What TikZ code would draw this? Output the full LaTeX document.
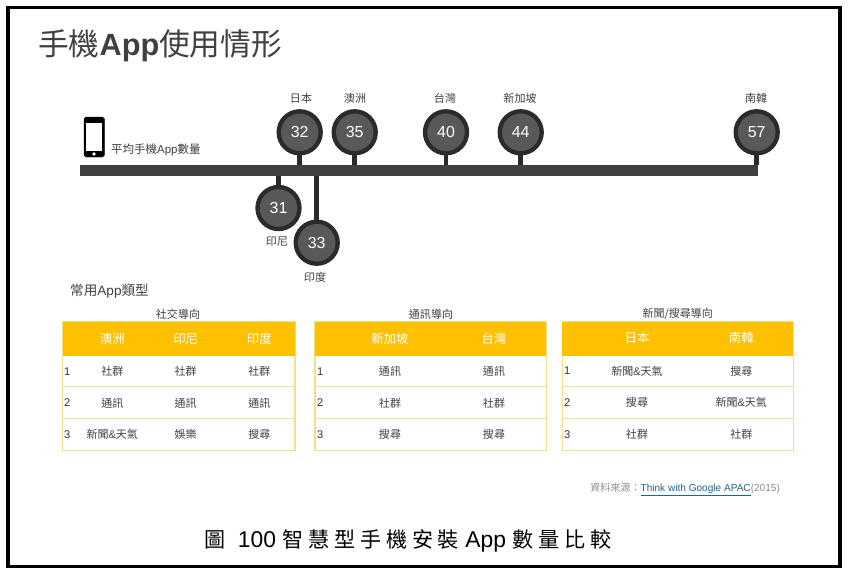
\documentclass[tikz,border=0pt]{standalone}
\usepackage{fontspec}
\setmainfont{Liberation Sans}
\newfontfamily\cjk{Noto Sans CJK TC}
\newfontfamily\capcjk[LetterSpace=23]{Noto Sans CJK TC}
\newcommand{\zh}[1]{{\cjk #1}}
\definecolor{inkgray}{HTML}{404040}
\definecolor{ringgray}{HTML}{2B2B2B}
\definecolor{discgray}{HTML}{595959}
\definecolor{headgold}{HTML}{FFC000}
\definecolor{rulegold}{HTML}{F5E08A}
\definecolor{linkblue}{HTML}{1F6391}
\definecolor{srcgray}{HTML}{8C8C8C}
\tikzset{
  disc/.style={circle,draw=ringgray,fill=discgray,line width=3.7pt,minimum size=1.26cm,inner sep=0pt,text=white,font=\fontsize{13.6}{15}\selectfont},
  stem/.style={draw=ringgray,line width=3.8pt},
  country/.style={inner sep=0pt,text=inkgray,font=\fontsize{9.4}{11}\selectfont\cjk},
  headcell/.style={inner sep=0pt,text=white,font=\fontsize{10.6}{12}\selectfont\cjk},
  cell/.style={inner sep=0pt,text=inkgray,font=\fontsize{9.4}{11}\selectfont\cjk},
  rownum/.style={inner sep=0pt,anchor=west,text=black!80,font=\fontsize{9.5}{11}\selectfont},
  tabletitle/.style={inner sep=0pt,text=inkgray,font=\fontsize{9.4}{11}\selectfont\cjk},
  rowline/.style={draw=rulegold,line width=0.9pt},
}
\begin{document}
\begin{tikzpicture}[x=0.03cm,y=-0.03cm]
\useasboundingbox (0,0) rectangle (852,576);
\draw [line width=3.2pt] (8,7.5) rectangle (840,566.5);
% heading
\node [inner sep=0pt,anchor=west,text=inkgray,font=\fontsize{26.2}{30}\selectfont] (Title) at (38,46) {\zh{手機}\textbf{App}\zh{使用情形}};
% phone
\draw [fill=black,rounded corners=1.6pt] (84,117) rectangle (104.3,157);
\draw [fill=white,draw=none] (86,123.3) rectangle (102,150.7);
\draw [fill=white,draw=none] (94,154) circle (1.8);
\node [inner sep=0pt,anchor=west,text=inkgray,font=\fontsize{9.8}{11}\selectfont] (PhoneText) at (111,150) {\zh{平均手機}App\zh{數量}};
% time line
\node [fill=inkgray,minimum width=20.34cm,minimum height=0.32cm,inner sep=0pt] (Bar) at (419,170.3) {};
\node [disc] (N32) at (299.7,132.3) {32};
\node [disc] (N35) at (354.7,132.3) {35};
\node [disc] (N40) at (446,132.3) {40};
\node [disc] (N44) at (520.7,132.3) {44};
\node [disc] (N57) at (756.7,132.3) {57};
\node [disc] (N31) at (278.5,208) {31};
\node [disc] (N33) at (316.7,242.7) {33};
\draw [stem] (N32) -- (N32 |- Bar.north);
\draw [stem] (N35) -- (N35 |- Bar.north);
\draw [stem] (N40) -- (N40 |- Bar.north);
\draw [stem] (N44) -- (N44 |- Bar.north);
\draw [stem] (N57) -- (N57 |- Bar.north);
\draw [stem] (N31) -- (N31 |- Bar.south);
\draw [stem] (N33) -- (N33 |- Bar.south);
\node [country] (LJapan) at (301,98) {日本};
\node [country] (LAus) at (355,98) {澳洲};
\node [country] (LTaiwan) at (445,98.5) {台灣};
\node [country] (LSing) at (520,98.5) {新加坡};
\node [country] (LKorea) at (756,98.5) {南韓};
\node [country] (LIndo) at (277,241) {印尼};
\node [country] (LIndia) at (315,277) {印度};
% tables
\node [inner sep=0pt,anchor=west,text=inkgray,font=\fontsize{11.6}{13}\selectfont] (TypeText) at (70,291) {\zh{常用}App\zh{類型}};
\node [tabletitle] (T1) at (178,314) {社交導向};
\draw [rowline] (62.5,321.7) rectangle (295,450.7);
\draw [fill=headgold,draw=none] (62.5,321.7) rectangle (295,355.7);
\draw [rowline] (62.5,386.7) -- (295,386.7);
\draw [rowline] (62.5,418.3) -- (295,418.3);
\node [headcell] (A0) at (112.3,339) {澳洲};
\node [headcell] (B0) at (185.7,339) {印尼};
\node [headcell] (C0) at (259.3,339) {印度};
\node [rownum] (R1) at (64,371.7) {1};
\node [cell] (A1) at (112.3,371.7) {社群};
\node [cell] (B1) at (185.7,371.7) {社群};
\node [cell] (C1) at (259.3,371.7) {社群};
\node [rownum] (R2) at (64,403) {2};
\node [cell] (A2) at (112.3,403) {通訊};
\node [cell] (B2) at (185.7,403) {通訊};
\node [cell] (C2) at (259.3,403) {通訊};
\node [rownum] (R3) at (64,434.7) {3};
\node [cell] (A3) at (112.3,434.7) {新聞{\normalfont\&}天氣};
\node [cell] (B3) at (185.7,434.7) {娛樂};
\node [cell] (C3) at (259.3,434.7) {搜尋};
\node [tabletitle] (T2) at (431,314) {通訊導向};
\draw [rowline] (315,321.7) rectangle (546.3,450.7);
\draw [fill=headgold,draw=none] (315,321.7) rectangle (546.3,355.7);
\draw [rowline] (315,386.7) -- (546.3,386.7);
\draw [rowline] (315,418.3) -- (546.3,418.3);
\node [headcell] (D0) at (390,339) {新加坡};
\node [headcell] (E0) at (494,339) {台灣};
\node [rownum] (R4) at (317,371.7) {1};
\node [cell] (D1) at (390,371.7) {通訊};
\node [cell] (E1) at (494,371.7) {通訊};
\node [rownum] (R5) at (317,403) {2};
\node [cell] (D2) at (390,403) {社群};
\node [cell] (E2) at (494,403) {社群};
\node [rownum] (R6) at (317,434.7) {3};
\node [cell] (D3) at (390,434.7) {搜尋};
\node [cell] (E3) at (494,434.7) {搜尋};
\node [tabletitle] (T3) at (677.7,314) {新聞/搜尋導向};
\draw [rowline] (562.3,321.7) rectangle (793.3,450.7);
\draw [fill=headgold,draw=none] (562.3,321.7) rectangle (793.3,355.7);
\draw [rowline] (562.3,386.7) -- (793.3,386.7);
\draw [rowline] (562.3,418.3) -- (793.3,418.3);
\node [headcell] (F0) at (637,338) {日本};
\node [headcell] (G0) at (741.3,338) {南韓};
\node [rownum] (R7) at (564,371) {1};
\node [cell] (F1) at (637,371) {新聞{\normalfont\&}天氣};
\node [cell] (G1) at (741.3,371) {搜尋};
\node [rownum] (R8) at (564,402.7) {2};
\node [cell] (F2) at (637,402.7) {搜尋};
\node [cell] (G2) at (741.3,402.7) {新聞{\normalfont\&}天氣};
\node [rownum] (R9) at (564,434.7) {3};
\node [cell] (F3) at (637,434.7) {社群};
\node [cell] (G3) at (741.3,434.7) {社群};
% source and caption
\node [inner sep=0pt,anchor=west,text=srcgray,font=\fontsize{8.6}{10}\selectfont] (Source) at (590,489.3) {\zh{資料來源：}\textcolor{linkblue}{\underline{Think with Google APAC}}(2015)};
\node [inner sep=0pt,anchor=west,font=\fontsize{19.5}{22}\selectfont] (Caption) at (204,541) {{\capcjk\fontsize{18}{22}\selectfont 圖}\hspace{0.55em}100 {\capcjk\fontsize{18}{22}\selectfont 智慧型手機安裝} App {\capcjk\fontsize{18}{22}\selectfont 數量比較}};
\end{tikzpicture}
\end{document}
